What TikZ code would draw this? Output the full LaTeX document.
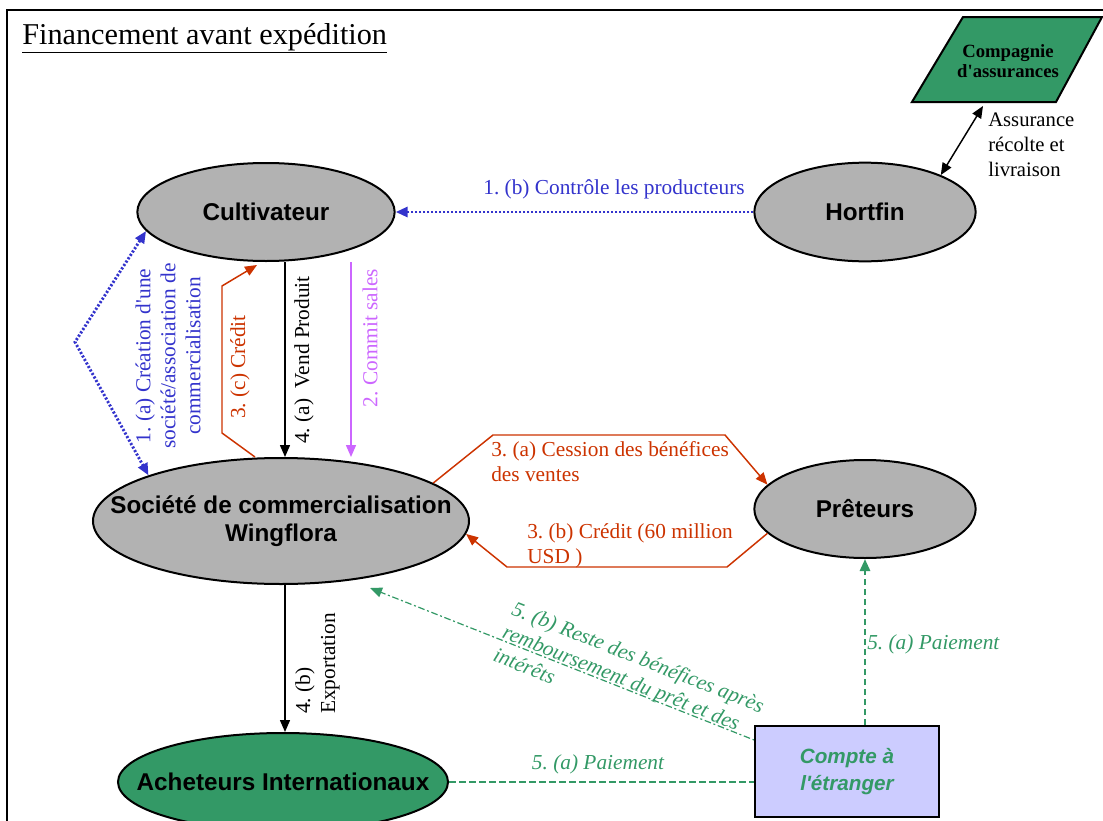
\documentclass[tikz,border=0pt]{standalone}
\usepackage{fontspec}
\setmainfont{Liberation Serif}[Ligatures=TeXOff]
\setsansfont{Liberation Sans}[Ligatures=TeXOff]
\usetikzlibrary{shapes.geometric,arrows.meta,calc}
\definecolor{ngray}{RGB}{178,178,178}
\definecolor{ngreen}{RGB}{51,153,102}
\definecolor{nblue}{RGB}{51,51,204}
\definecolor{nred}{RGB}{204,51,0}
\definecolor{nviolet}{RGB}{204,102,255}
\definecolor{nlav}{RGB}{204,204,255}
\frenchspacing
\begin{document}
\begin{tikzpicture}[x=0.75pt,y=-0.75pt,
  ent/.style={ellipse,draw=black,line width=1.5pt,fill=ngray,inner sep=0pt},
  enttxt/.style={inner sep=0pt,align=center,font=\sffamily\bfseries\fontsize{18.2}{21}\selectfont},
  lbl/.style={font=\fontsize{16}{18.75}\selectfont,inner sep=0pt},
  ilbl/.style={font=\itshape\fontsize{16}{18.75}\selectfont,inner sep=0pt,text=ngreen},
  tip/.style={-{Triangle[length=9pt,width=7.5pt]}},
  dtip/.style={{Triangle[length=9pt,width=7.5pt]}-{Triangle[length=9pt,width=7.5pt]}},
  conn/.style={line width=1.1pt},
  bdot/.style={draw=nblue,line width=2.2pt,dash pattern=on 1.6pt off 1.4pt},
  gdash/.style={draw=ngreen,line width=2pt,dash pattern=on 5pt off 2.5pt},
  gdashdot/.style={draw=ngreen,line width=0.9pt,dash pattern=on 5pt off 2pt on 1.5pt off 2pt}
]
\useasboundingbox (0,0) rectangle (1103,821);
% frame
\draw[line width=1.5pt] (7,840) -- (7,10) -- (1115,10);
% title
\node[anchor=base west,inner sep=0pt,font=\fontsize{22.7}{26}\selectfont] (title) at (22,44) {\underline{Financement avant expédition}};

% nodes
\node[ent,minimum width=193pt,minimum height=73.5pt] (cult) at (266,212) {};
\node[enttxt] (cultt) at (cult) {Cultivateur};
\node[ent,minimum width=166pt,minimum height=74pt] (hort) at (865,212) {};
\node[enttxt] (hortt) at (hort) {Hortfin};
\node[ent,minimum width=282pt,minimum height=94.5pt] (soc) at (281,521) {};
\node[enttxt] (soct) at (soc) {Société de commercialisation\\Wingflora};
\node[ent,minimum width=166pt,minimum height=73.5pt] (pret) at (865,509) {};
\node[enttxt] (prett) at (pret) {Prêteurs};
\node[ent,fill=ngreen,minimum width=247.5pt,minimum height=73.5pt] (ach) at (283,782) {};
\node[enttxt] (acht) at (ach) {Acheteurs Internationaux};

% insurance parallelogram
\draw[line width=1.5pt,fill=ngreen] (963,17) -- (1102,17) -- (1056,102) -- (912,102) -- cycle;
\node[inner sep=0pt,align=center,font=\bfseries\fontsize{14}{15}\selectfont] (insu) at (1008,61) {Compagnie\\d'assurances};
\coordinate (insb) at (983,106);

% 5.(b) dash-dot (drawn before the account box)
\coordinate (c5b) at ($(soc.south)+(89,3)$);
\draw[gdashdot,tip] ($(847,771.5)+(-84,-28)$) -- (c5b);

% account box
\node[draw,line width=1.5pt,fill=nlav,minimum width=138pt,minimum height=68pt,inner sep=0pt,
  font=\sffamily\bfseries\itshape\fontsize{15.5}{20}\selectfont,text=ngreen,align=center] (comp) at (847,771.5) {Compte à\\l'étranger};

% 1.(b)
\draw[bdot,tip] (hort.west) -- (cult.east);
\node[lbl,text=nblue] (l1b) at (614,189) {1. (b) Contrôle les producteurs};

% 1.(a)
\draw[bdot,dtip] (cult.189) -- (75,342) -- (soc.161);
\node[lbl,text=nblue,rotate=90,align=center] (l1a) at (168,356) {1. (a) Création d'une\\société/association de\\commercialisation};

% 3.(c)
\draw[conn,nred,tip] ($(soc.north)+(-26,0)$) -- (222,433) -- (222,286) -- ($(cult.south)+(-9,3)$);
\node[lbl,text=nred,rotate=90] (l3c) at (240,367) {3. (c) Crédit};

% 4.(a)
\draw[conn,tip] ($(cult.south)+(19,0)$) -- ($(soc.north)+(4,0)$);
\node[lbl,rotate=90] (l4a) at (304,360) {4. (a)\ \ Vend Produit};

% 2.
\draw[conn,nviolet,tip] ($(cult.south)+(85,0)$) -- ($(soc.north)+(70,0)$);
\node[lbl,text=nviolet,rotate=90] (l2) at (370,338) {2. Commit sales};

% 3.(a)
\draw[conn,nred,tip] (soc.14) -- (493,435) -- (725,435) -- (pret.166);
\node[lbl,text=nred,anchor=north west,align=left] (l3a) at (491,441) {3. (a) Cession des bénéfices\\des ventes};

% 3.(b)
\draw[conn,nred,tip] (pret.194) -- (727,567) -- (507,567) -- (soc.356);
\node[lbl,text=nred,anchor=north west,align=left] (l3b) at (527,523) {3. (b) Crédit (60 million\\USD )};

% 4.(b)
\draw[conn,tip] ($(soc.south)+(4,0)$) -- ($(ach.north)+(2,0)$);
\node[lbl,rotate=90,anchor=north west,align=left] (l4b) at (295,714) {4. (b)\\Exportation};

% insurance arrow
\draw[conn,dtip] (hort.26) -- (insb);
\node[anchor=north west,inner sep=0pt,align=left,font=\fontsize{15.5}{18.75}\selectfont] (lins) at (988,113) {Assurance\\récolte et\\livraison};

% 5.(a) horizontal
\draw[gdash] (ach.east) -- (ach.east -| comp.west);
\node[ilbl] (l5a) at (598,764) {5. (a) Paiement};

% 5.(a) vertical
\draw[gdash,tip] (comp.north -| pret.south) -- (pret.south);
\node[ilbl,anchor=base west] (l5a2) at (867,649) {5. (a) Paiement};

% 5.(b) label
\node[ilbl,rotate=-21.6,anchor=north west,align=left] (l5b) at (516,600) {5. (b) Reste des bénéfices après\\remboursement du prêt et des\\intérêts};
\end{tikzpicture}
\end{document}
